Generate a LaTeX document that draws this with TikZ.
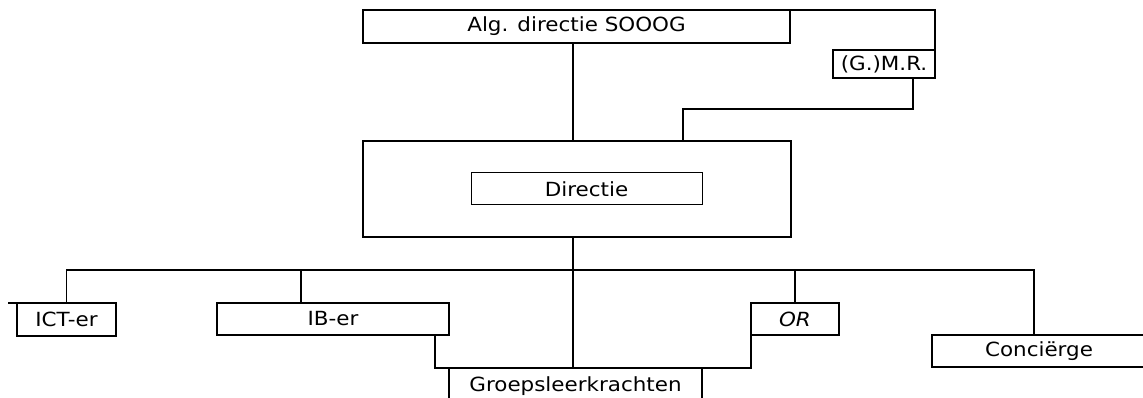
\documentclass[tikz,border=0pt]{standalone}
\usepackage{fontspec}
\setmainfont{DejaVu Sans}[FakeStretch=1.1]
\begin{document}
\begin{tikzpicture}[x=1pt,y=-1pt,
  box/.style={draw,line width=1.3pt,inner sep=0pt,outer sep=0pt,font=\fontsize{19.5}{21}\selectfont},
  conn/.style={line width=1.9pt,line cap=rect}]
\useasboundingbox (0,0) rectangle (1143,398);
\clip (0,0) rectangle (1143,398);
\coordinate (spine) at (573,0);
% boxes
\node[box,minimum width=427pt,minimum height=33pt] (alg) at (576.5,26.5) {Alg. directie SOOOG};
\node[box,minimum width=102pt,minimum height=28pt] (gmr) at (884,64) {(G.)M.R.};
\node[box,minimum width=428pt,minimum height=96pt] (dirbig) at (577,189) {};
\node[box,line width=1pt,minimum width=231pt,minimum height=32pt] (dir) at (586.5,189) {Directie};
\node[box,minimum width=99pt,minimum height=33pt] (ict) at (66.5,319.5) {ICT-er};
\node[box,minimum width=232pt,minimum height=32pt] (ib) at (333,319) {IB-er};
\node[box,minimum width=88pt,minimum height=32pt] (or) at (795,319) {\itshape OR};
\node[box,minimum width=214pt,minimum height=32pt] (conc) at (1039,351) {Conciërge};
\node[box,minimum width=253pt,minimum height=36pt,text depth=4pt] (groep) at (575.5,386) {Groepsleerkrachten};
% connectors
\coordinate (busL) at (67,270);
\coordinate (busR) at (1034,270);
\coordinate (k1) at (683,109);
\coordinate (ibtap) at (301,270);
\draw[conn] (spine |- alg.south) -- (spine |- dirbig.north);
\draw[conn] (alg.north east) -| (gmr.north east);
\draw[conn] ([xshift=29pt]gmr.south) |- (k1) -- (k1 |- dirbig.north);
\draw[conn] (spine |- dirbig.south) -- (spine |- groep.north);
\draw[conn] (ict.north) |- (busR) -- (busR |- conc.north);
\draw[conn] (ibtap) -- (ibtap |- ib.north);
\draw[conn] (or.north) -- (or.north |- busL);
\draw[conn] ([xshift=-14pt]ib.south east) |- (groep.north) -| (or.south west);
\draw[line width=1.3pt] (ict.north west) -- ++(-9,0);
\end{tikzpicture}
\end{document}
